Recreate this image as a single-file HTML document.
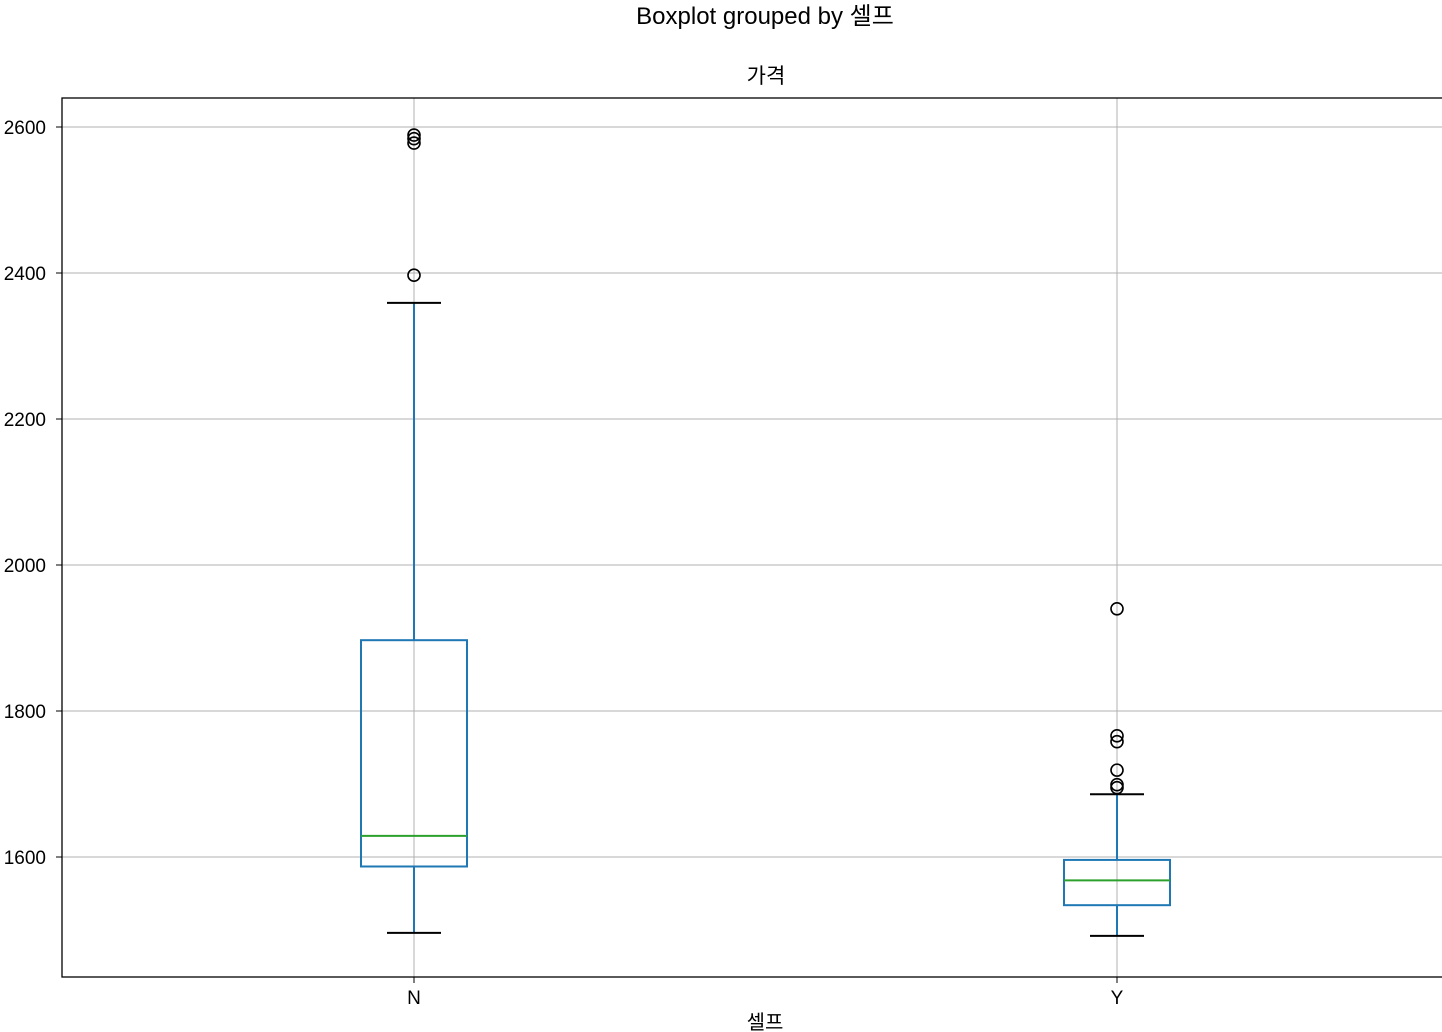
<!DOCTYPE html>
<html><head><meta charset="utf-8"><style>
body{margin:0;background:#fff;}
svg{display:block;font-family:"Liberation Sans","Noto Sans CJK KR",sans-serif;}
</style></head><body>
<svg id="c" width="1442" height="1032">
<text x="765" y="24" font-size="24" text-anchor="middle">Boxplot grouped by 셀프</text>
<text x="766" y="83" font-size="21" text-anchor="middle">가격</text>
<text x="765" y="1029" font-size="20" text-anchor="middle">셀프</text>
<g id="grid"></g><g id="marks"></g><g id="ticks"></g>
<rect x="62" y="98" width="1390" height="879" fill="none" stroke="#000" stroke-width="1.3"/>
</svg>
<script>
const categories=["N","Y"];
const q1=[1587,1534];
const median=[1629,1568];
const q3=[1897,1596];
const whiskLo=[1496,1492];
const whiskHi=[2359,1686];
const outliersN=[2397,2578,2584,2589];
const outliersY=[1940,1766,1758,1719,1699,1695];
const yTicks=[1600,1800,2000,2200,2400,2600];
const NS="http://www.w3.org/2000/svg";
const xs=[414,1117];
function y(v){return 857-(v-1600)*0.73;}
function mk(parent,tag,attrs){const e=document.createElementNS(NS,tag);for(const k in attrs)e.setAttribute(k,attrs[k]);document.getElementById(parent).appendChild(e);return e;}
yTicks.forEach(t=>{
 const g=mk('grid','line',{x1:62,x2:1442,y1:y(t),y2:y(t),stroke:'#b0b0b0','stroke-width':1});
 
 
 const tk=mk('ticks','line',{x1:56,x2:62,y1:y(t),y2:y(t),stroke:'#000'});
 
 
 const tx=mk('ticks','text',{x:46,y:y(t)+7,'font-size':19,'text-anchor':'end'});
 tx.textContent=t;
 
 
});
categories.forEach((c,i)=>{
 const x=xs[i];
 const g=mk('grid','line',{x1:x,x2:x,y1:98,y2:977,stroke:'#b0b0b0','stroke-width':1});
 
 
 const tk=mk('ticks','line',{x1:x,x2:x,y1:977,y2:983,stroke:'#000'});
 
 
 const tx=mk('ticks','text',{x:x,y:1004,'font-size':19,'text-anchor':'middle'});
 tx.textContent=c;
 
 
 const blue='#1f77b4';
 const w1=mk('marks','line',{x1:x,x2:x,y1:y(q3[i]),y2:y(whiskHi[i]),stroke:blue,'stroke-width':2});
 
 
 const w2=mk('marks','line',{x1:x,x2:x,y1:y(q1[i]),y2:y(whiskLo[i]),stroke:blue,'stroke-width':2});
 
 
 [whiskHi[i],whiskLo[i]].forEach(v=>{
  const cap=mk('marks','line',{x1:x-27,x2:x+27,y1:y(v),y2:y(v),stroke:'#000','stroke-width':2});
  
  
 });
 const b=mk('marks','rect',{x:x-53,y:y(q3[i]),width:106,height:y(q1[i])-y(q3[i]),fill:'none',stroke:blue,'stroke-width':2});
 
 
 const m=mk('marks','line',{x1:x-53,x2:x+53,y1:y(median[i]),y2:y(median[i]),stroke:'#2ca02c','stroke-width':2});
 
 
 (i===0?outliersN:outliersY).forEach(v=>{
  const o=mk('marks','circle',{cx:x,cy:y(v),r:6,fill:'none',stroke:'#000','stroke-width':1.6});
  
  
 });
});
</script>
</body></html>
